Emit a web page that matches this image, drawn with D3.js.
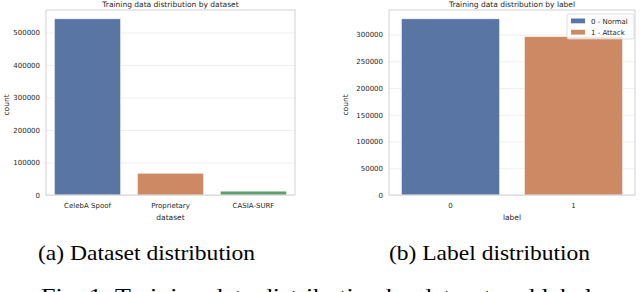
<!DOCTYPE html>
<html>
<head>
<meta charset="utf-8">
<script src="https://cdn.jsdelivr.net/npm/d3@7"></script>
<style>
  body { margin: 0; background: #fff; }
  svg { display: block; }
  .axis path, .axis line { stroke: none; }
  .axis text { font-family: "DejaVu Sans", sans-serif; font-size: 7px; fill: #262626; }
  .grid line { stroke: #ebebeb; stroke-width: 0.8; }
  .grid path { stroke: none; }
</style>
</head>
<body>
<svg width="640" height="292"></svg>
<script>
// data
const datasets = ["CelebA Spoof", "Proprietary", "CASIA-SURF"];
const datasetCounts = [542000, 67000, 12000];
const datasetTicks = [0, 100000, 200000, 300000, 400000, 500000];

const labels = ["0", "1"];
const labelCounts = [329500, 296500];
const labelTicks = [0, 50000, 100000, 150000, 200000, 250000, 300000];
const legendNames = ["0 - Normal", "1 - Attack"];

const colors = ["#5975a4", "#cc8963", "#5f9e6e"];

const svg = d3.select("svg");
const font = "DejaVu Sans, sans-serif";

function drawPanel(opts) {
  const { left, right, top, bottom, cats, vals, ticks, title, xlabel, ylabelX } = opts;

  const x = d3.scaleBand()
    .domain(cats)
    .range([left, right])
    .paddingInner(0.2)
    .paddingOuter(0.1);

  const y = d3.scaleLinear()
    .domain([0, d3.max(vals) * 1.05])
    .range([bottom, top]);

  const g = svg.append("g");

  // grid
  g.append("g")
    .attr("class", "grid")
    .attr("transform", `translate(${left},0)`)
    .call(d3.axisLeft(y).tickValues(ticks).tickSize(-(right - left)).tickFormat(""));

  // bars
  g.append("g")
    .selectAll("rect")
    .data(vals)
    .enter()
    .append("rect")
    .attr("x", (d, i) => x(cats[i]))
    .attr("y", d => y(d))
    .attr("width", x.bandwidth())
    .attr("height", d => bottom - y(d))
    .attr("fill", (d, i) => colors[i])
    .attr("stroke", "#ffffff")
    .attr("stroke-width", 0.6);

  // frame
  g.append("rect")
    .attr("x", left)
    .attr("y", top)
    .attr("width", right - left)
    .attr("height", bottom - top)
    .attr("fill", "none")
    .attr("stroke", "#cccccc")
    .attr("stroke-width", 0.9);

  // y axis
  g.append("g")
    .attr("class", "axis")
    .attr("transform", `translate(${left},0)`)
    .call(d3.axisLeft(y).tickValues(ticks).tickSize(0).tickPadding(6).tickFormat(d3.format("d")));

  // x axis
  g.append("g")
    .attr("class", "axis")
    .attr("transform", `translate(0,${bottom})`)
    .call(d3.axisBottom(x).tickSize(0).tickPadding(8));

  // title
  g.append("text")
    .attr("x", (left + right) / 2)
    .attr("y", 7)
    .attr("text-anchor", "middle")
    .attr("font-family", font)
    .attr("font-size", 7.5)
    .attr("fill", "#262626")
    .text(title);

  g.append("text")
    .attr("x", (left + right) / 2)
    .attr("y", bottom + 25)
    .attr("text-anchor", "middle")
    .attr("font-family", font)
    .attr("font-size", 7.5)
    .attr("fill", "#262626")
    .text(xlabel);

  g.append("text")
    .attr("transform", `translate(${ylabelX},105) rotate(-90)`)
    .attr("text-anchor", "middle")
    .attr("font-family", font)
    .attr("font-size", 7.5)
    .attr("fill", "#262626")
    .text("count");

  return { x, y };
}

drawPanel({
  left: 46, right: 295, top: 10, bottom: 195,
  cats: datasets, vals: datasetCounts, ticks: datasetTicks,
  title: "Training data distribution by dataset", xlabel: "dataset", ylabelX: 9
});

drawPanel({
  left: 389, right: 635, top: 10, bottom: 195,
  cats: labels, vals: labelCounts, ticks: labelTicks,
  title: "Training data distribution by label", xlabel: "label", ylabelX: 348
});

// legend
const lg = svg.append("g").attr("transform", "translate(567,14)");
lg.append("rect")
  .attr("width", 67).attr("height", 25).attr("rx", 2)
  .attr("fill", "#fff").attr("fill-opacity", 0.8)
  .attr("stroke", "#d6d6d6").attr("stroke-width", 0.8);
legendNames.forEach((name, i) => {
  lg.append("rect")
    .attr("x", 4).attr("y", 4.5 + i * 11.3)
    .attr("width", 14).attr("height", 4.8)
    .attr("fill", colors[i]);
  lg.append("text")
    .attr("x", 24).attr("y", 9.5 + i * 11.3)
    .attr("font-family", font).attr("font-size", 7)
    .attr("fill", "#262626")
    .text(name);
});

// captions
const serif = "Liberation Serif, Times New Roman, serif";
svg.append("text")
  .attr("x", 38).attr("y", 260)
  .attr("font-family", serif).attr("font-size", 21)
  .attr("textLength", 217).attr("lengthAdjust", "spacingAndGlyphs")
  .text("(a) Dataset distribution");
svg.append("text")
  .attr("x", 389).attr("y", 260)
  .attr("font-family", serif).attr("font-size", 21)
  .attr("textLength", 201).attr("lengthAdjust", "spacingAndGlyphs")
  .text("(b) Label distribution");
svg.append("text")
  .attr("x", 41).attr("y", 303)
  .attr("font-family", serif).attr("font-size", 21)
  .attr("textLength", 551).attr("lengthAdjust", "spacingAndGlyphs")
  .text("Fig. 1: Training data distribution by dataset and label");
</script>
</body>
</html>
